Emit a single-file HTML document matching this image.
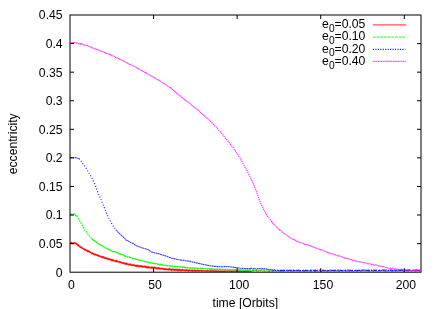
<!DOCTYPE html>
<html><head><meta charset="utf-8"><title>eccentricity</title>
<style>
html,body{margin:0;padding:0;background:#fff;}
body{width:442px;height:309px;overflow:hidden;}
svg{display:block;will-change:transform;opacity:0.999;}
text{font-family:"Liberation Sans",sans-serif;font-size:12.2px;fill:#000;}
</style></head><body>
<svg width="442" height="309" viewBox="0 0 442 309">
<rect width="442" height="309" fill="#fff"/>
<clipPath id="c"><rect x="60" y="10" width="372" height="262.2"/></clipPath>
<g fill="none" stroke-linejoin="round" clip-path="url(#c)">
<path d="M70.2 242.6 L70.9 243.5 L71.6 242.6 L72.3 243.7 L73.0 242.7 L73.7 243.7 L74.4 242.7 L75.1 243.6 L75.8 243.0 L76.5 244.3 L77.2 244.0 L77.9 245.5 L78.6 245.0 L79.3 246.7 L80.0 246.2 L80.7 247.5 L81.4 247.1 L82.1 248.4 L82.8 248.0 L83.5 249.2 L84.2 248.8 L84.9 250.1 L85.6 249.6 L86.3 250.8 L87.0 250.2 L87.7 251.5 L88.4 250.9 L89.1 252.1 L89.8 251.6 L90.5 252.7 L91.2 252.4 L91.9 253.7 L92.6 253.0 L93.3 254.3 L94.0 253.7 L94.7 254.8 L95.4 254.1 L96.1 255.3 L96.8 254.7 L97.5 255.7 L98.2 255.2 L98.9 256.3 L99.6 255.8 L100.3 256.9 L101.0 256.2 L101.7 257.3 L102.4 256.5 L103.1 257.8 L103.8 256.9 L104.5 258.3 L105.2 257.6 L105.9 258.6 L106.6 258.1 L107.3 259.2 L108.0 258.3 L108.7 259.5 L109.4 258.9 L110.1 260.0 L110.8 259.2 L111.5 260.4 L112.2 259.6 L112.9 260.7 L113.6 260.0 L114.3 261.0 L115.0 260.5 L115.7 261.6 L116.4 260.6 L117.1 261.9 L117.8 261.2 L118.5 262.0 L119.2 261.5 L119.9 262.5 L120.6 261.9 L121.3 262.9 L122.0 262.4 L122.7 263.3 L123.4 262.6 L124.1 263.7 L124.8 263.0 L125.5 264.2 L126.2 263.3 L126.9 264.4 L127.6 263.7 L128.3 264.8 L129.0 264.0 L129.7 264.9 L130.4 264.2 L131.1 265.5 L131.8 264.6 L132.5 265.4 L133.2 264.7 L133.9 265.8 L134.6 265.1 L135.3 266.0 L136.0 265.3 L136.7 266.4 L137.4 265.5 L138.1 266.6 L138.8 265.5 L139.5 266.5 L140.2 265.7 L140.9 266.8 L141.6 265.9 L142.3 267.1 L143.0 266.2 L143.7 267.0 L144.4 266.2 L145.1 267.3 L145.8 266.4 L146.5 267.6 L147.2 266.6 L147.9 267.8 L148.6 266.8 L149.3 267.8 L150.0 267.1 L150.7 268.0 L151.4 267.1 L152.1 268.1 L152.8 267.1 L153.5 268.1 L154.2 267.3 L154.9 268.2 L155.6 267.5 L156.3 268.7 L157.0 267.8 L157.7 268.8 L158.4 267.8 L159.1 269.0 L159.8 268.1 L160.5 269.0 L161.2 268.4 L161.9 269.2 L162.6 268.5 L163.3 269.4 L164.0 268.7 L164.7 269.5 L165.4 268.7 L166.1 269.8 L166.8 268.9 L167.5 269.7 L168.2 268.9 L168.9 269.9 L169.6 268.9 L170.3 269.9 L171.0 269.1 L171.7 270.2 L172.4 269.3 L173.1 270.1 L173.8 269.3 L174.5 270.3 L175.2 269.3 L175.9 270.4 L176.6 269.5 L177.3 270.4 L178.0 269.4 L178.7 270.4 L179.4 269.5 L180.1 270.6 L180.8 269.7 L181.5 270.5 L182.2 269.7 L182.9 270.5 L183.6 269.9 L184.3 270.6 L185.0 269.9 L185.7 270.8 L186.4 269.9 L187.1 270.7 L187.8 270.0 L188.5 270.9 L189.2 270.0 L189.9 270.9 L190.6 270.2 L191.3 270.8 L192.0 269.9 L192.7 271.1 L193.4 270.3 L194.1 271.1 L194.8 270.0 L195.5 271.1 L196.2 270.3 L196.9 271.1 L197.6 270.2 L198.3 271.1 L199.0 270.2 L199.7 271.0 L200.4 270.5 L201.1 271.0 L201.8 270.5 L202.5 271.1 L203.2 270.6 L203.9 271.0 L204.6 270.7 L205.3 271.0 L206.0 270.7 L206.7 271.2 L207.4 270.6 L208.1 271.1 L208.8 270.8 L209.5 271.2 L210.2 270.7 L210.9 271.3 L211.6 270.8 L212.3 271.3 L213.0 270.8 L213.7 271.3 L214.4 270.9 L215.1 271.3 L215.8 270.8 L216.5 271.3 L217.2 270.9 L217.9 271.3 L218.6 270.9 L219.3 271.4 L220.0 270.9 L220.7 271.3 L221.4 270.9 L222.1 271.4 L222.8 270.9 L223.5 271.4 L224.2 270.9 L224.9 271.4 L225.6 270.9 L226.3 271.4 L227.0 271.0 L227.7 271.3 L228.4 270.9 L229.1 271.3 L229.8 270.9 L230.5 271.3 L231.2 270.9 L231.9 271.5 L232.6 271.0 L233.3 271.3 L234.0 271.0 L234.7 271.4 L235.4 270.9 L236.1 271.3 L236.8 270.9 L237.5 271.5 L238.2 270.9 L238.9 271.4 L239.6 271.0 L240.3 271.4 L241.0 271.0 L241.7 271.4 L242.4 271.0 L243.1 271.4 L243.8 270.9 L244.5 271.5 L245.2 270.9 L245.9 271.4 L246.6 271.0 L247.3 271.4 L248.0 270.9 L248.7 271.4 L249.4 271.0 L250.1 271.3 L250.8 271.0 L251.5 271.4" stroke="#ff0000" stroke-width="1.2" stroke-opacity="0.95" stroke-linejoin="miter"/>
<path d="M70.2 214.3 L70.7 214.2 L71.2 214.2 L71.7 214.3 L72.2 214.4 L72.7 214.0 L73.2 214.2 L73.7 214.0 L74.2 214.0 L74.7 214.4 L75.2 214.6 L75.7 215.3 L76.2 215.6 L76.7 215.9 M91.7 238.7 L92.2 239.1 L92.7 239.3 L93.2 240.0 L93.7 240.0 L94.2 240.7 L94.7 241.0 L95.2 241.0 L95.7 241.4 L96.2 242.1 L96.7 242.5 L97.2 242.5 L97.7 243.0 L98.2 243.6 L98.7 243.7 L99.2 244.4 L99.7 244.6 L100.2 244.7 L100.7 245.1 L101.2 245.4 L101.7 245.6 L102.2 245.9 L102.7 245.9 L103.2 246.5 L103.7 246.6 L104.2 247.1 L104.7 247.4 L105.2 247.6 L105.7 247.9 L106.2 248.4 L106.7 248.7 L107.2 248.9 L107.7 249.0 L108.2 249.1 L108.7 249.2 L109.2 249.9 L109.7 250.0 L110.2 250.4 L110.7 250.4 L111.2 250.8 L111.7 251.3 L112.2 251.5 L112.7 251.5 L113.2 251.4 L113.7 251.6 L114.2 251.9 L114.7 251.7 L115.2 252.0 L115.7 252.2 L116.2 252.5 L116.7 252.8 L117.2 252.7 L117.7 252.9 L118.2 253.2 L118.7 253.6 L119.2 253.8 L119.7 254.0 L120.2 254.2 L120.7 253.9 L121.2 254.4 L121.7 254.5 L122.2 254.6 L122.7 254.6 L123.2 254.7 L123.7 255.3 L124.2 255.6 L124.7 255.8 L125.2 256.1 L125.7 256.0 L126.2 256.0 L126.7 256.4 L127.2 256.7 L127.7 256.6 L128.2 257.0 L128.7 257.2 L129.2 257.1 L129.7 257.4 L130.2 257.6 L130.7 257.7 L131.2 257.7 L131.7 257.8 L132.2 258.2 L132.7 258.4 L133.2 258.4 L133.7 258.3 L134.2 258.8 L134.7 258.9 L135.2 258.8 L135.7 259.1 L136.2 259.4 L136.7 259.5 L137.2 259.5 L137.7 259.6 L138.2 259.8 L138.7 259.7 L139.2 259.9 L139.7 260.0 L140.2 260.4 L140.7 260.3 L141.2 260.6 L141.7 260.6 L142.2 260.8 L142.7 260.8 L143.2 260.9 L143.7 261.5 L144.2 261.3 L144.7 261.3 L145.2 261.6 L145.7 261.8 L146.2 261.6 L146.7 261.9 L147.2 261.9 L147.7 262.1 L148.2 262.0 L148.7 262.1 L149.2 262.7 L149.7 262.8 L150.2 262.7 L150.7 262.8 L151.2 262.8 L151.7 263.1 L152.2 263.0 L152.7 263.4 L153.2 263.4 L153.7 263.5 L154.2 263.7 L154.7 263.5 L155.2 263.4 L155.7 263.6 L156.2 263.7 L156.7 263.7 L157.2 263.8 L157.7 264.1 L158.2 264.4 L158.7 264.3 L159.2 264.6 L159.7 264.7 L160.2 264.3 L160.7 264.7 L161.2 264.7 L161.7 264.6 L162.2 265.1 L162.7 264.8 L163.2 265.1 L163.7 265.2 L164.2 265.4 L164.7 265.4 L165.2 265.3 L165.7 265.4 L166.2 265.3 L166.7 265.8 L167.2 265.8 L167.7 265.5 L168.2 265.5 L168.7 265.7 L169.2 265.8 L169.7 266.1 L170.2 266.2 L170.7 266.2 L171.2 265.9 L171.7 266.3 L172.2 266.3 L172.7 266.4 L173.2 266.6 L173.7 266.2 L174.2 266.3 L174.7 266.6 L175.2 266.8 L175.7 266.7 L176.2 266.6 L176.7 266.8 L177.2 266.9 L177.7 266.6 L178.2 266.8 L178.7 266.8 L179.2 266.8 L179.7 267.0 L180.2 266.9 L180.7 267.0 L181.2 267.0 L181.7 267.3 L182.2 267.0 L182.7 267.4 L183.2 267.2 L183.7 267.2 L184.2 267.7 L184.7 267.4 L185.2 267.8 L185.7 267.8 L186.2 267.8 L186.7 267.5 L187.2 267.7 L187.7 267.6 L188.2 268.1 L188.7 268.1 L189.2 268.0 L189.7 268.0 L190.2 267.9 L190.7 268.2 L191.2 268.1 L191.7 268.2 L192.2 267.9 L192.7 268.0 L193.2 267.9 L193.7 268.3 L194.2 268.2 L194.7 268.1 L195.2 268.4 L195.7 268.2 L196.2 268.3 L196.7 268.2 L197.2 268.2 L197.7 268.5 L198.2 268.3 L198.7 268.3 L199.2 268.4 L199.7 268.4 L200.2 268.7 L200.7 268.3 L201.2 268.8 L201.7 268.3 L202.2 268.8 L202.7 268.7 L203.2 268.5 L203.7 268.7 L204.2 268.6 L204.7 268.6 L205.2 268.6 L205.7 268.7 L206.2 269.1 L206.7 269.1 L207.2 269.1 L207.7 268.7 L208.2 268.8 L208.7 269.2 L209.2 268.8 L209.7 269.1 L210.2 268.9 L210.7 269.3 L211.2 268.9 L211.7 269.3 L212.2 269.1 L212.7 269.0 L213.2 269.0 L213.7 269.4 L214.2 269.3 L214.7 269.1 L215.2 269.3 L215.7 269.5 L216.2 269.2 L216.7 269.4 L217.2 269.2 L217.7 269.2 L218.2 269.5 L218.7 269.5 L219.2 269.3 L219.7 269.2 L220.2 269.2 L220.7 269.5 L221.2 269.5 L221.7 269.4 L222.2 269.3 L222.7 269.5 L223.2 269.6 L223.7 269.7 L224.2 269.6 L224.7 269.4 L225.2 269.3 L225.7 269.7 L226.2 269.5 L226.7 269.7 L227.2 269.4 L227.7 269.8 L228.2 269.5 L228.7 269.8 L229.2 269.8 L229.7 269.7 L230.2 269.4 L230.7 269.9 L231.2 269.7 L231.7 269.9 L232.2 269.6 L232.7 269.6 L233.2 269.9 L233.7 269.7 L234.2 269.6 L234.7 269.7 L235.2 269.8 L235.7 269.6 L236.2 269.8 L236.7 269.8 L237.2 269.8 L237.7 269.7 L238.2 270.0 L238.7 270.0 L239.2 270.1 L239.7 269.8 L240.2 270.0 L240.7 269.9 L241.2 270.1 L241.7 269.8 L242.2 270.2 L242.7 270.3 L243.2 270.1 L243.7 270.1 L244.2 270.1 L244.7 270.2 L245.2 269.9 L245.7 270.4 L246.2 270.1 L246.7 270.1 L247.2 270.1 L247.7 270.2 L248.2 270.5 L248.7 270.1 L249.2 270.2 L249.7 270.5 L250.2 270.2 L250.7 270.2 L251.2 270.5 L251.7 270.5" stroke="#00ff00" stroke-width="1.35" stroke-opacity="0.92" stroke-dasharray="2.4 0.35"/>
<path d="M76.7 215.9 L77.2 216.5 L77.7 217.4 L78.2 218.5 L78.7 219.4 L79.2 220.0 L79.7 220.9 L80.2 221.6 L80.7 222.7 L81.2 223.4 L81.7 224.2 L82.2 225.0 L82.7 225.9 L83.2 227.1 L83.7 227.7 L84.2 229.0 L84.7 229.4 L85.2 230.5 L85.7 230.9 L86.2 231.5 L86.7 232.5 L87.2 233.0 L87.7 233.9 L88.2 234.3 L88.7 234.9 L89.2 235.8 L89.7 236.4 L90.2 237.1 L90.7 237.7 L91.2 238.0 L91.7 238.7" stroke="#00ff00" stroke-width="1.25" stroke-opacity="0.9" stroke-dasharray="1.6 1.0"/>
<path d="M79.0 158.9 L79.4 159.0 L79.8 159.4 L80.2 159.7 L80.6 160.2 L81.0 160.8 L81.4 161.4 L81.8 162.0 L82.2 162.7 L82.6 163.2 L83.0 163.9 L83.4 164.5 L83.8 164.9 L84.2 165.4 L84.6 166.2 L85.0 166.7 L85.4 167.1 L85.8 167.8 L86.2 168.3 L86.6 169.0 L87.0 169.7 L87.4 170.4 L87.8 171.0 L88.2 171.8 L88.6 172.5 L89.0 173.3 L89.4 173.7 L89.8 174.6 L90.2 175.0 L90.6 175.7 L91.0 176.5 L91.4 177.2 L91.8 177.9 L92.2 178.5 L92.6 179.3 L93.0 180.1 L93.4 181.1 L93.8 181.9 L94.2 182.9 L94.6 183.9 L95.0 184.6 L95.4 185.6 L95.8 186.7 L96.2 187.9 L96.6 188.8 L97.0 190.0 L97.4 191.1 L97.8 192.2 L98.2 193.0 L98.6 194.0 L99.0 195.0 L99.4 195.8 L99.8 196.7 L100.2 197.7 L100.6 198.6 L101.0 199.4 L101.4 200.4 L101.8 201.3 L102.2 202.3 L102.6 203.2 L103.0 204.4 L103.4 205.5 L103.8 206.4 L104.2 207.6 L104.6 208.4 L105.0 209.5 L105.4 210.4 L105.8 211.4 L106.2 212.4 L106.6 213.1 L107.0 214.0 L107.4 214.9 L107.8 215.8 L108.2 216.8 L108.6 217.5 L109.0 218.5 L109.4 219.3 L109.8 220.1 L110.2 220.9 L110.6 221.6 L111.0 222.3 L111.4 223.1 L111.8 223.8 L112.2 224.7 L112.6 225.2 L113.0 225.7 L113.4 226.4 L113.8 226.8 L114.2 227.3 L114.6 227.8 L115.0 228.5 L115.4 229.0 L115.8 229.7" stroke="#0000ff" stroke-width="1.15" stroke-opacity="0.9" stroke-dasharray="1.0 1.9"/>
<path d="M70.2 157.6 L70.6 157.6 L71.0 157.4 L71.4 157.6 L71.8 157.6 L72.2 157.6 L72.6 157.5 L73.0 157.7 L73.4 157.6 L73.8 157.7 L74.2 157.6 L74.6 157.6 L75.0 157.8 L75.4 157.7 L75.8 157.9 L76.2 157.8 L76.6 157.7 L77.0 157.9 L77.4 158.1 L77.8 158.4 L78.2 158.6 L78.6 158.6 L79.0 158.9 M115.8 229.7 L116.2 230.1 L116.6 230.6 L117.0 230.9 L117.4 231.3 L117.8 231.8 L118.2 232.4 L118.6 232.9 L119.0 233.2 L119.4 233.5 L119.8 233.9 L120.2 234.3 L120.6 234.7 L121.0 235.0 L121.4 235.4 L121.8 235.7 L122.2 235.9 L122.6 236.5 L123.0 236.8 L123.4 237.2 L123.8 237.6 L124.2 238.1 L124.6 238.3 L125.0 238.7 L125.4 239.1 L125.8 239.5 L126.2 240.1 L126.6 240.2 L127.0 240.4 L127.4 240.6 L127.8 241.0 L128.2 241.1 L128.6 241.3 L129.0 241.7 L129.4 241.8 L129.8 242.2 L130.2 242.2 L130.6 242.4 L131.0 242.7 L131.4 242.9 L131.8 243.1 L132.2 243.1 L132.6 243.4 L133.0 243.5 L133.4 243.7 L133.8 244.1 L134.2 244.3 L134.6 244.6 L135.0 244.7 L135.4 245.1 L135.8 245.2 L136.2 245.4 L136.6 245.8 L137.0 246.0 L137.4 246.0 L137.8 246.3 L138.2 246.5 L138.6 246.5 L139.0 246.7 L139.4 246.8 L139.8 247.0 L140.2 247.1 L140.6 247.4 L141.0 247.5 L141.4 247.6 L141.8 247.7 L142.2 247.9 L142.6 248.1 L143.0 248.1 L143.4 248.2 L143.8 248.3 L144.2 248.6 L144.6 248.6 L145.0 248.6 L145.4 248.7 L145.8 248.9 L146.2 249.0 L146.6 249.2 L147.0 249.1 L147.4 249.3 L147.8 249.6 L148.2 249.8 L148.6 250.0 L149.0 250.3 L149.4 250.6 L149.8 250.7 L150.2 251.0 L150.6 251.2 L151.0 251.5 L151.4 251.8 L151.8 252.1 L152.2 252.1 L152.6 252.3 L153.0 252.5 L153.4 252.5 L153.8 252.5 L154.2 252.8 L154.6 252.8 L155.0 253.0 L155.4 252.9 L155.8 253.1 L156.2 253.1 L156.6 253.2 L157.0 253.2 L157.4 253.4 L157.8 253.5 L158.2 253.7 L158.6 253.6 L159.0 253.8 L159.4 253.9 L159.8 254.0 L160.2 254.1 L160.6 254.2 L161.0 254.4 L161.4 254.6 L161.8 254.6 L162.2 254.8 L162.6 255.0 L163.0 255.1 L163.4 255.1 L163.8 255.2 L164.2 255.5 L164.6 255.6 L165.0 255.6 L165.4 255.7 L165.8 256.1 L166.2 256.1 L166.6 256.4 L167.0 256.4 L167.4 256.6 L167.8 256.6 L168.2 256.9 L168.6 257.0 L169.0 257.2 L169.4 257.4 L169.8 257.6 L170.2 257.6 L170.6 257.7 L171.0 257.9 L171.4 258.1 L171.8 258.1 L172.2 258.2 L172.6 258.3 L173.0 258.5 L173.4 258.7 L173.8 258.5 L174.2 258.8 L174.6 258.9 L175.0 258.8 L175.4 259.1 L175.8 259.0 L176.2 259.3 L176.6 259.3 L177.0 259.5 L177.4 259.5 L177.8 259.6 L178.2 259.7 L178.6 259.7 L179.0 259.8 L179.4 259.8 L179.8 259.9 L180.2 259.8 L180.6 260.1 L181.0 260.1 L181.4 260.1 L181.8 260.3 L182.2 260.3 L182.6 260.3 L183.0 260.3 L183.4 260.5 L183.8 260.4 L184.2 260.5 L184.6 260.6 L185.0 260.6 L185.4 260.7 L185.8 260.8 L186.2 260.7 L186.6 260.9 L187.0 260.8 L187.4 261.0 L187.8 261.1 L188.2 261.1 L188.6 261.0 L189.0 261.2 L189.4 261.2 L189.8 261.4 L190.2 261.3 L190.6 261.6 L191.0 261.7 L191.4 261.7 L191.8 261.8 L192.2 261.8 L192.6 262.1 L193.0 262.0 L193.4 262.3 L193.8 262.3 L194.2 262.3 L194.6 262.5 L195.0 262.6 L195.4 262.5 L195.8 262.7 L196.2 262.9 L196.6 262.8 L197.0 263.1 L197.4 263.0 L197.8 263.3 L198.2 263.2 L198.6 263.4 L199.0 263.6 L199.4 263.5 L199.8 263.6 L200.2 263.8 L200.6 263.8 L201.0 263.9 L201.4 264.0 L201.8 264.1 L202.2 264.4 L202.6 264.4 L203.0 264.5 L203.4 264.4 L203.8 264.6 L204.2 264.6 L204.6 264.7 L205.0 264.8 L205.4 264.8 L205.8 265.0 L206.2 265.0 L206.6 265.1 L207.0 265.3 L207.4 265.2 L207.8 265.4 L208.2 265.4 L208.6 265.5 L209.0 265.6 L209.4 265.5 L209.8 265.8 L210.2 265.7 L210.6 265.7 L211.0 265.9 L211.4 265.9 L211.8 265.9 L212.2 266.1 L212.6 266.0 L213.0 266.2 L213.4 266.1 L213.8 266.3 L214.2 266.4 L214.6 266.4 L215.0 266.4 L215.4 266.4 L215.8 266.3 L216.2 266.4 L216.6 266.4 L217.0 266.6 L217.4 266.5 L217.8 266.6 L218.2 266.7 L218.6 266.6 L219.0 266.6 L219.4 266.7 L219.8 266.6 L220.2 266.6 L220.6 266.7 L221.0 266.7 L221.4 266.8 L221.8 266.7 L222.2 266.8 L222.6 266.7 L223.0 266.6 L223.4 266.7 L223.8 266.7 L224.2 266.6 L224.6 266.7 L225.0 266.5 L225.4 266.5 L225.8 266.5 L226.2 266.6 L226.6 266.6 L227.0 266.6 L227.4 266.5 L227.8 266.5 L228.2 266.5 L228.6 266.7 L229.0 266.7 L229.4 266.7 L229.8 266.8 L230.2 266.8 L230.6 267.0 L231.0 267.0 L231.4 266.9 L231.8 267.1 L232.2 266.9 L232.6 267.1 L233.0 267.1 L233.4 267.1 L233.8 267.1 L234.2 267.4 L234.6 267.2 L235.0 267.4 L235.4 267.6 L235.8 267.5 L236.2 267.5 L236.6 267.7 L237.0 267.8 L237.4 267.8 L237.8 268.0 L238.2 267.9 L238.6 268.0 L239.0 268.0 L239.4 268.0 L239.8 268.3 L240.2 268.3 L240.6 268.3 L241.0 268.2 L241.4 268.4 L241.8 268.4 L242.2 268.4 L242.6 268.5 L243.0 268.4 L243.4 268.4 L243.8 268.4 L244.2 268.5 L244.6 268.5 L245.0 268.6 L245.4 268.7 L245.8 268.6 L246.2 268.7 L246.6 268.7 L247.0 268.5 L247.4 268.6 L247.8 268.6 L248.2 268.7 L248.6 268.6 L249.0 268.5 L249.4 268.6 L249.8 268.7 L250.2 268.4 L250.6 268.9 L251.0 268.2 L251.4 268.4 L251.8 268.4 L252.2 268.8 L252.6 269.0 L253.0 268.8 L253.4 268.5 L253.8 268.9 L254.2 268.5 L254.6 268.4 L255.0 269.0 L255.4 268.8 L255.8 268.8 L256.2 268.8 L256.6 269.1 L257.0 268.7 L257.4 269.0 L257.8 268.9 L258.2 269.0 L258.6 268.7 L259.0 268.9 L259.4 268.8 L259.8 268.6 L260.2 268.6 L260.6 268.9 L261.0 268.5 L261.4 269.1 L261.8 268.5 L262.2 268.5 L262.6 268.5 L263.0 269.2 L263.4 268.7 L263.8 268.6 L264.2 268.5 L264.6 268.5 L265.0 269.1 L265.4 269.1 L265.8 269.2 L266.2 269.3 L266.6 268.8 L267.0 269.3 L267.4 269.2 L267.8 269.6 L268.2 269.7 L268.6 269.8 L269.0 269.2 L269.4 269.9 L269.8 270.0 L270.2 270.1 L270.6 269.5 L271.0 269.6 L271.4 269.6 L271.8 269.6" stroke="#0000ff" stroke-width="1.1" stroke-opacity="0.74" stroke-dasharray="2.0 0.4"/>
</g>
<g stroke="#000" stroke-width="1" fill="none">
<rect x="70.00" y="15.00" width="351.00" height="257.20"/>
<line x1="153.57" y1="15.00" x2="153.57" y2="19.00"/>
<line x1="237.14" y1="15.00" x2="237.14" y2="19.00"/>
<line x1="320.71" y1="15.00" x2="320.71" y2="19.00"/>
<line x1="404.29" y1="15.00" x2="404.29" y2="19.00"/>
<line x1="70.00" y1="243.62" x2="74.00" y2="243.62"/>
<line x1="421.00" y1="243.62" x2="417.00" y2="243.62"/>
<line x1="70.00" y1="215.04" x2="74.00" y2="215.04"/>
<line x1="421.00" y1="215.04" x2="417.00" y2="215.04"/>
<line x1="70.00" y1="186.47" x2="74.00" y2="186.47"/>
<line x1="421.00" y1="186.47" x2="417.00" y2="186.47"/>
<line x1="70.00" y1="157.89" x2="74.00" y2="157.89"/>
<line x1="421.00" y1="157.89" x2="417.00" y2="157.89"/>
<line x1="70.00" y1="129.31" x2="74.00" y2="129.31"/>
<line x1="421.00" y1="129.31" x2="417.00" y2="129.31"/>
<line x1="70.00" y1="100.73" x2="74.00" y2="100.73"/>
<line x1="421.00" y1="100.73" x2="417.00" y2="100.73"/>
<line x1="70.00" y1="72.16" x2="74.00" y2="72.16"/>
<line x1="421.00" y1="72.16" x2="417.00" y2="72.16"/>
<line x1="70.00" y1="43.58" x2="74.00" y2="43.58"/>
<line x1="421.00" y1="43.58" x2="417.00" y2="43.58"/>
</g>
<g fill="none" stroke-linejoin="round" clip-path="url(#c)">
<path d="M251.7 270.5 L252.2 270.5 L252.7 270.7 L253.2 270.3 L253.7 270.8 L254.2 270.7 L254.7 270.4 L255.2 270.4 L255.7 270.7 L256.2 270.7 L256.7 270.6 L257.2 270.5 L257.7 270.7 L258.2 270.6 L258.7 270.9 L259.2 271.1 L259.7 270.7 L260.2 270.9 L260.7 271.1 L261.2 270.7 L261.7 271.1 L262.2 271.2 L262.7 270.9 L263.2 270.9 L263.7 271.2 L264.2 271.0 L264.7 271.0 L265.2 271.3 L265.7 271.2 L266.2 271.0 L266.7 270.9 L267.2 271.0 L267.7 271.1 L268.2 271.4 L268.7 271.3 L269.2 271.4 L269.7 271.4 L270.2 271.4 L270.7 271.0 L271.2 271.2 L271.7 271.5 L272.2 271.5 L272.7 271.1 L273.2 271.2 L273.7 271.4 L274.2 271.2 L274.7 271.4 L275.2 271.1 L275.7 271.3 L276.2 271.4 L276.7 271.1 L277.2 271.2 L277.7 271.7 L278.2 271.6 L278.7 271.7 L279.2 271.6 L279.7 271.7 L280.2 271.7 L280.7 271.7 L281.2 271.2 L281.7 271.6 L282.2 271.4 L282.7 271.6 L283.2 271.4 L283.7 271.5 L284.2 271.8 L284.7 271.6 L285.2 271.4 L285.7 271.5 L286.2 271.5 L286.7 271.8 L287.2 271.4 L287.7 271.4 L288.2 271.6 L288.7 271.3 L289.2 271.6 L289.7 271.8 L290.2 271.5 L290.7 271.4 L291.2 271.5 L291.7 271.5 L292.2 271.3 L292.7 271.3 L293.2 271.3 L293.7 271.4 L294.2 271.5 L294.7 271.4 L295.2 271.4 L295.7 271.3 L296.2 271.5 L296.7 271.7 L297.2 271.6 L297.7 271.6 L298.2 271.6 L298.7 271.3 L299.2 271.7 L299.7 271.5 L300.2 271.6 L300.7 271.6 L301.2 271.5 L301.7 271.4 L302.2 271.4 L302.7 271.4 L303.2 271.5 L303.7 271.5 L304.2 271.6 L304.7 271.2 L305.2 271.4 L305.7 271.7 L306.2 271.4 L306.7 271.6 L307.2 271.5 L307.7 271.4 L308.2 271.8 L308.7 271.4 L309.2 271.7 L309.7 271.3 L310.2 271.3 L310.7 271.8 L311.2 271.5 L311.7 271.3 L312.2 271.5 L312.7 271.5 L313.2 271.7 L313.7 271.3 L314.2 271.4 L314.7 271.8 L315.2 271.7 L315.7 271.3 L316.2 271.4 L316.7 271.5 L317.2 271.7 L317.7 271.6 L318.2 271.8 L318.7 271.7 L319.2 271.6 L319.7 271.7 L320.2 271.7 L320.7 271.7 L321.2 271.5 L321.7 271.7 L322.2 271.7 L322.7 271.8 L323.2 271.3 L323.7 271.8 L324.2 271.3 L324.7 271.7 L325.2 271.6 L325.7 271.6 L326.2 271.8 L326.7 271.6 L327.2 271.5 L327.7 271.7 L328.2 271.8 L328.7 271.6 L329.2 271.5 L329.7 271.5 L330.2 271.5 L330.7 271.7 L331.2 271.4 L331.7 271.5 L332.2 271.6 L332.7 271.5 L333.2 271.5 L333.7 271.7 L334.2 271.8 L334.7 271.6 L335.2 271.5 L335.7 271.4 L336.2 271.5 L336.7 271.4 L337.2 271.6 L337.7 271.6 L338.2 271.3 L338.7 271.8 L339.2 271.5 L339.7 271.8 L340.2 271.8 L340.7 271.9 L341.2 271.4 L341.7 271.5 L342.2 271.8 L342.7 271.3 L343.2 271.3 L343.7 271.6 L344.2 271.6 L344.7 271.8 L345.2 271.7 L345.7 271.6 L346.2 271.9 L346.7 271.6 L347.2 271.6 L347.7 271.7 L348.2 271.5 L348.7 271.5 L349.2 271.6 L349.7 271.5 L350.2 271.9 L350.7 271.7 L351.2 271.6 L351.7 271.3 L352.2 271.5 L352.7 271.5 L353.2 271.6 L353.7 271.6 L354.2 271.8 L354.7 271.9 L355.2 271.6 L355.7 271.6 L356.2 271.7 L356.7 271.9 L357.2 271.5 L357.7 271.6 L358.2 271.8 L358.7 271.4 L359.2 271.5 L359.7 271.9 L360.2 271.8 L360.7 271.6 L361.2 271.4 L361.7 271.8 L362.2 271.7 L362.7 271.8 L363.2 271.9 L363.7 271.8 L364.2 271.6 L364.7 271.4 L365.2 271.5 L365.7 271.6 L366.2 271.6 L366.7 271.4 L367.2 271.4 L367.7 271.7 L368.2 271.7 L368.7 271.5 L369.2 271.9 L369.7 271.7 L370.2 271.3 L370.7 271.5 L371.2 271.8 L371.7 271.5 L372.2 271.7 L372.7 271.3 L373.2 271.5 L373.7 271.8 L374.2 271.7 L374.7 271.7 L375.2 271.4 L375.7 271.6 L376.2 271.6 L376.7 271.5 L377.2 271.7 L377.7 271.6 L378.2 271.9 L378.7 271.6 L379.2 271.5 L379.7 271.4 L380.2 271.4 L380.7 271.8 L381.2 271.4 L381.7 271.4 L382.2 271.4 L382.7 271.6 L383.2 271.8 L383.7 271.7 L384.2 271.8 L384.7 271.3 L385.2 271.3 L385.7 271.8 L386.2 271.5 L386.7 271.7 L387.2 271.5 L387.7 271.4 L388.2 271.5 L388.7 271.4 L389.2 271.8 L389.7 271.6 L390.2 271.5 L390.7 271.6 L391.2 271.5 L391.7 271.3 L392.2 271.8 L392.7 271.6 L393.2 271.9 L393.7 271.6 L394.2 271.7 L394.7 271.4 L395.2 271.3 L395.7 271.9 L396.2 271.8 L396.7 271.5 L397.2 271.8 L397.7 271.8 L398.2 271.5 L398.7 271.7 L399.2 271.9 L399.7 271.6 L400.2 271.9 L400.7 271.4 L401.2 271.5 L401.7 271.7 L402.2 271.4 L402.7 271.5 L403.2 271.8 L403.7 271.6 L404.2 271.8 L404.7 271.4 L405.2 271.4 L405.7 271.5 L406.2 271.4 L406.7 271.9 L407.2 271.5 L407.7 271.6 L408.2 271.4 L408.7 271.6 L409.2 271.5 L409.7 271.5 L410.2 271.3 L410.7 271.4 L411.2 271.8 L411.7 271.5 L412.2 271.4 L412.7 271.4 L413.2 271.5 L413.7 271.4 L414.2 271.3 L414.7 271.7 L415.2 271.5 L415.7 271.4 L416.2 271.7 L416.7 271.4 L417.2 271.5 L417.7 271.8 L418.2 271.4 L418.7 271.6 L419.2 271.8 L419.7 271.8 L420.2 271.4" stroke="#00ff00" stroke-width="1.2" stroke-opacity="0.95" stroke-dasharray="6 0.8 3 0.6 9 1.0"/>
<path d="M252.2 270.9 L252.9 271.4 L253.6 270.9 L254.3 271.4 L255.0 270.9 L255.7 271.4 L256.4 270.9 L257.1 271.3 L257.8 270.9 L258.5 271.4 L259.2 270.9 L259.9 271.4 L260.6 270.8 L261.3 271.4 L262.0 270.9 L262.7 271.3 L263.4 270.9 L264.1 271.4 L264.8 271.0 L265.5 271.3 L266.2 270.9 L266.9 271.3 L267.6 270.9 L268.3 271.4 L269.0 270.9 L269.7 271.3 L270.4 270.9 L271.1 271.3 L271.8 270.9 L272.5 271.3 L273.2 270.9 L273.9 271.3 L274.6 270.8 L275.3 271.3 L276.0 270.9 L276.7 271.4 L277.4 270.9 L278.1 271.2 L278.8 270.8 L279.5 271.3 L280.2 270.8 L280.9 271.3 L281.6 270.9 L282.3 271.3 L283.0 270.9 L283.7 271.3 L284.4 270.8 L285.1 271.2 L285.8 270.8 L286.5 271.2 L287.2 270.8 L287.9 271.3 L288.6 270.8 L289.3 271.3 L290.0 270.8 L290.7 271.2 L291.4 270.7 L292.1 271.3 L292.8 270.9 L293.5 271.3 L294.2 270.8 L294.9 271.2 L295.6 270.7 L296.3 271.2 L297.0 270.7 L297.7 271.2 L298.4 270.7 L299.1 271.2 L299.8 270.8 L300.5 271.2 L301.2 270.8 L301.9 271.2 L302.6 270.8 L303.3 271.2 L304.0 270.7 L304.7 271.2 L305.4 270.7 L306.1 271.2 L306.8 270.7 L307.5 271.2 L308.2 270.7 L308.9 271.3 L309.6 270.8 L310.3 271.3 L311.0 270.8 L311.7 271.3 L312.4 270.7 L313.1 271.3 L313.8 270.8 L314.5 271.2 L315.2 270.7 L315.9 271.3 L316.6 270.7 L317.3 271.2 L318.0 270.8 L318.7 271.2 L319.4 270.8 L320.1 271.3 L320.8 270.8 L321.5 271.3 L322.2 270.7 L322.9 271.2 L323.6 270.8 L324.3 271.2 L325.0 270.7 L325.7 271.2 L326.4 270.8 L327.1 271.2 L327.8 270.8 L328.5 271.3 L329.2 270.8 L329.9 271.2 L330.6 270.8 L331.3 271.3 L332.0 270.8 L332.7 271.2 L333.4 270.7 L334.1 271.2 L334.8 270.7 L335.5 271.3 L336.2 270.7 L336.9 271.2 L337.6 270.8 L338.3 271.2 L339.0 270.8 L339.7 271.3 L340.4 270.7 L341.1 271.2 L341.8 270.8 L342.5 271.3 L343.2 270.7 L343.9 271.2 L344.6 270.8 L345.3 271.2 L346.0 270.7 L346.7 271.2 L347.4 270.7 L348.1 271.2 L348.8 270.8 L349.5 271.2 L350.2 270.8 L350.9 271.3 L351.6 270.8 L352.3 271.2 L353.0 270.8 L353.7 271.2 L354.4 270.8 L355.1 271.2 L355.8 270.8 L356.5 271.2 L357.2 270.8 L357.9 271.2 L358.6 270.8 L359.3 271.2 L360.0 270.8 L360.7 271.3 L361.4 270.8 L362.1 271.2 L362.8 270.7 L363.5 271.2 L364.2 270.8 L364.9 271.2 L365.6 270.8 L366.3 271.2 L367.0 270.8 L367.7 271.3 L368.4 270.7 L369.1 271.2 L369.8 270.8 L370.5 271.3 L371.2 270.7 L371.9 271.3 L372.6 270.8 L373.3 271.2 L374.0 270.8 L374.7 271.2 L375.4 270.7 L376.1 271.3 L376.8 270.7 L377.5 271.3 L378.2 270.8 L378.9 271.3 L379.6 270.7 L380.3 271.2 L381.0 270.8 L381.7 271.2 L382.4 270.8 L383.1 271.2 L383.8 270.8 L384.5 271.2 L385.2 270.8 L385.9 271.3 L386.6 270.8 L387.3 271.2 L388.0 270.8 L388.7 271.2 L389.4 270.8 L390.1 271.2 L390.8 270.8 L391.5 271.3 L392.2 270.8 L392.9 271.2 L393.6 270.8 L394.3 271.2 L395.0 270.8 L395.7 271.2 L396.4 270.8 L397.1 271.2 L397.8 270.7 L398.5 271.2 L399.2 270.7 L399.9 271.2 L400.6 270.7 L401.3 271.2 L402.0 270.8 L402.7 271.2 L403.4 270.8 L404.1 271.3 L404.8 270.8 L405.5 271.3 L406.2 270.8 L406.9 271.3 L407.6 270.8 L408.3 271.2 L409.0 270.7 L409.7 271.2 L410.4 270.8 L411.1 271.2 L411.8 270.8 L412.5 271.2 L413.2 270.7 L413.9 271.2 L414.6 270.8 L415.3 271.2 L416.0 270.8 L416.7 271.3 L417.4 270.8 L418.1 271.2 L418.8 270.7 L419.5 271.3 L420.2 270.8" stroke="#ff0000" stroke-width="1.0" stroke-opacity="0.85" stroke-dasharray="2 2.6 3.2 1.6 1.4 3.1"/>
<path d="M271.8 269.6 L272.2 270.3 L272.6 270.3 L273.0 270.2 L273.4 270.4 L273.8 270.3 L274.2 270.0 L274.6 269.9 L275.0 270.0 L275.4 270.5 L275.8 270.1 L276.2 270.2 L276.6 270.4 L277.0 270.1 L277.4 270.3 L277.8 270.3 L278.2 270.7 L278.6 270.4 L279.0 270.3 L279.4 270.9 L279.8 270.5 L280.2 270.8 L280.6 270.6 L281.0 270.1 L281.4 270.4 L281.8 270.4 L282.2 270.7 L282.6 270.3 L283.0 270.6 L283.4 270.5 L283.8 270.2 L284.2 270.7 L284.6 270.1 L285.0 270.7 L285.4 270.2 L285.8 270.0 L286.2 270.2 L286.6 270.6 L287.0 270.8 L287.4 270.0 L287.8 270.4 L288.2 270.4 L288.6 270.6 L289.0 270.2 L289.4 270.4 L289.8 270.3 L290.2 270.7 L290.6 270.2 L291.0 270.8 L291.4 270.2 L291.8 270.2 L292.2 270.6 L292.6 270.4 L293.0 270.1 L293.4 270.5 L293.8 270.1 L294.2 270.6 L294.6 270.6 L295.0 270.6 L295.4 270.5 L295.8 270.3 L296.2 270.3 L296.6 270.3 L297.0 270.7 L297.4 270.1 L297.8 270.7 L298.2 270.0 L298.6 270.2 L299.0 270.2 L299.4 270.7 L299.8 270.4 L300.2 270.3 L300.6 270.7 L301.0 270.2 L301.4 270.4 L301.8 270.4 L302.2 270.6 L302.6 270.6 L303.0 270.5 L303.4 270.3 L303.8 270.3 L304.2 270.1 L304.6 270.7 L305.0 270.5 L305.4 270.6 L305.8 270.1 L306.2 270.4 L306.6 270.6 L307.0 270.5 L307.4 270.1 L307.8 270.4 L308.2 270.7 L308.6 270.2 L309.0 270.2 L309.4 270.2 L309.8 270.6 L310.2 270.7 L310.6 270.1 L311.0 270.1 L311.4 270.2 L311.8 270.3 L312.2 270.4 L312.6 270.1 L313.0 270.3 L313.4 270.2 L313.8 270.8 L314.2 270.6 L314.6 270.1 L315.0 270.8 L315.4 270.1 L315.8 270.3 L316.2 270.8 L316.6 270.6 L317.0 270.6 L317.4 270.3 L317.8 270.2 L318.2 270.5 L318.6 270.1 L319.0 270.2 L319.4 270.3 L319.8 270.0 L320.2 270.3 L320.6 270.6 L321.0 270.6 L321.4 270.4 L321.8 270.5 L322.2 270.4 L322.6 270.1 L323.0 270.5 L323.4 270.3 L323.8 270.6 L324.2 270.7 L324.6 270.3 L325.0 270.5 L325.4 270.6 L325.8 270.3 L326.2 270.2 L326.6 270.6 L327.0 270.7 L327.4 270.6 L327.8 270.6 L328.2 270.7 L328.6 270.5 L329.0 270.5 L329.4 270.4 L329.8 270.3 L330.2 270.5 L330.6 270.1 L331.0 270.3 L331.4 270.6 L331.8 270.6 L332.2 270.5 L332.6 270.2 L333.0 270.3 L333.4 270.4 L333.8 270.5 L334.2 270.3 L334.6 270.5 L335.0 270.7 L335.4 270.1 L335.8 270.5 L336.2 270.6 L336.6 270.3 L337.0 270.4 L337.4 270.8 L337.8 270.0 L338.2 270.4 L338.6 270.1 L339.0 270.6 L339.4 270.8 L339.8 270.4 L340.2 270.1 L340.6 270.5 L341.0 270.4 L341.4 270.6 L341.8 270.4 L342.2 270.5 L342.6 270.7 L343.0 270.4 L343.4 270.3 L343.8 270.7 L344.2 270.2 L344.6 270.5 L345.0 270.3 L345.4 270.6 L345.8 270.1 L346.2 270.8 L346.6 270.3 L347.0 270.0 L347.4 270.2 L347.8 270.3 L348.2 270.0 L348.6 270.3 L349.0 270.3 L349.4 270.5 L349.8 270.3 L350.2 270.2 L350.6 270.2 L351.0 270.6 L351.4 270.7 L351.8 270.4 L352.2 270.1 L352.6 270.6 L353.0 270.3 L353.4 270.1 L353.8 270.1 L354.2 270.6 L354.6 270.6 L355.0 270.5 L355.4 270.3 L355.8 270.4 L356.2 270.1 L356.6 270.7 L357.0 270.2 L357.4 270.5 L357.8 270.6 L358.2 270.6 L358.6 270.3 L359.0 270.2 L359.4 270.4 L359.8 270.1 L360.2 270.6 L360.6 270.2 L361.0 270.6 L361.4 270.2 L361.8 270.2 L362.2 270.1 L362.6 270.3 L363.0 270.1 L363.4 269.9 L363.8 270.5 L364.2 270.2 L364.6 270.1 L365.0 270.2 L365.4 270.3 L365.8 270.3 L366.2 270.4 L366.6 270.5 L367.0 270.2 L367.4 270.7 L367.8 270.6 L368.2 270.0 L368.6 270.6 L369.0 270.7 L369.4 270.6 L369.8 270.0 L370.2 270.6 L370.6 270.4 L371.0 269.9 L371.4 269.9 L371.8 270.7 L372.2 270.4 L372.6 270.1 L373.0 270.0 L373.4 270.0 L373.8 270.1 L374.2 270.5 L374.6 270.2 L375.0 270.0 L375.4 270.6 L375.8 270.5 L376.2 270.0 L376.6 270.6 L377.0 270.4 L377.4 270.5 L377.8 270.4 L378.2 270.6 L378.6 270.5 L379.0 270.6 L379.4 270.1 L379.8 270.5 L380.2 270.3 L380.6 270.5 L381.0 270.2 L381.4 270.6 L381.8 270.3 L382.2 270.1 L382.6 270.1 L383.0 270.0 L383.4 270.3 L383.8 269.9 L384.2 270.3 L384.6 270.0 L385.0 270.3 L385.4 270.3 L385.8 270.3 L386.2 270.6 L386.6 269.9 L387.0 270.5 L387.4 270.2 L387.8 270.3 L388.2 270.4 L388.6 270.5 L389.0 270.2 L389.4 270.2 L389.8 270.6 L390.2 269.9 L390.6 270.4 L391.0 270.4 L391.4 269.9 L391.8 270.3 L392.2 270.4 L392.6 270.6 L393.0 270.1 L393.4 270.6 L393.8 270.2 L394.2 270.2 L394.6 270.5 L395.0 269.9 L395.4 270.4 L395.8 270.3 L396.2 270.1 L396.6 270.5 L397.0 270.1 L397.4 270.2 L397.8 270.2 L398.2 270.4 L398.6 270.0 L399.0 270.2 L399.4 270.1 L399.8 270.2 L400.2 270.5 L400.6 270.0 L401.0 270.5 L401.4 270.1 L401.8 270.2 L402.2 270.0 L402.6 270.2 L403.0 270.6 L403.4 270.3 L403.8 270.4 L404.2 270.1 L404.6 270.1 L405.0 270.0 L405.4 270.3 L405.8 270.3 L406.2 270.4 L406.6 269.8 L407.0 270.4 L407.4 270.5 L407.8 270.2 L408.2 269.8 L408.6 270.0 L409.0 269.8 L409.4 270.0 L409.8 270.5 L410.2 270.3 L410.6 270.3 L411.0 270.4 L411.4 270.5 L411.8 270.3 L412.2 270.3 L412.6 270.3 L413.0 270.4 L413.4 270.3 L413.8 270.3 L414.2 270.0 L414.6 270.3 L415.0 270.2 L415.4 270.4 L415.8 269.9 L416.2 269.9 L416.6 269.8 L417.0 270.4 L417.4 270.5 L417.8 270.3 L418.2 270.1 L418.6 270.5 L419.0 270.4 L419.4 270.2 L419.8 270.0 L420.2 270.0" stroke="#0000ff" stroke-width="1.1" stroke-opacity="0.85" stroke-dasharray="5 1.2 3 0.8 7 1.5 2 0.8"/>
<path d="M70.2 43.2 L70.7 42.9 L71.2 42.9 L71.7 42.3 L72.2 42.7 L72.7 42.6 L73.2 42.5 L73.7 42.8 L74.2 42.6 L74.7 42.9 L75.2 42.7 L75.7 42.8 L76.2 43.1 L76.7 43.4 L77.2 43.0 L77.7 43.1 L78.2 43.5 L78.7 43.7 L79.2 43.6 L79.7 43.5 L80.2 44.0 L80.7 43.5 L81.2 44.1 L81.7 43.9 L82.2 44.0 L82.7 44.1 L83.2 44.4 L83.7 44.8 L84.2 44.6 L84.7 45.0 L85.2 45.2 L85.7 45.1 L86.2 45.4 L86.7 45.2 L87.2 45.4 L87.7 45.7 L88.2 46.2 L88.7 46.2 L89.2 46.4 L89.7 46.7 L90.2 46.8 L90.7 46.9 L91.2 47.4 L91.7 47.6 L92.2 47.5 L92.7 47.9 L93.2 48.0 L93.7 48.4 L94.2 48.5 L94.7 48.5 L95.2 49.1 L95.7 48.8 L96.2 49.1 L96.7 49.5 L97.2 49.4 L97.7 49.8 L98.2 49.7 L98.7 50.2 L99.2 50.5 L99.7 50.6 L100.2 51.0 L100.7 50.8 L101.2 51.3 L101.7 51.4 L102.2 51.6 L102.7 51.7 L103.2 52.2 L103.7 52.4 L104.2 52.3 L104.7 52.7 L105.2 52.5 L105.7 53.1 L106.2 53.3 L106.7 53.7 L107.2 53.8 L107.7 53.7 L108.2 54.0 L108.7 54.4 L109.2 54.2 L109.7 54.7 L110.2 54.7 L110.7 54.9 L111.2 55.1 L111.7 55.7 L112.2 55.5 L112.7 55.8 L113.2 56.1 L113.7 56.6 L114.2 56.4 L114.7 56.8 L115.2 57.1 L115.7 57.5 L116.2 57.7 L116.7 57.9 L117.2 57.8 L117.7 58.1 L118.2 58.3 L118.7 58.9 L119.2 59.1 L119.7 58.9 L120.2 59.2 L120.7 59.4 L121.2 59.7 L121.7 60.1 L122.2 60.4 L122.7 60.4 L123.2 60.5 L123.7 61.1 L124.2 61.3 L124.7 61.7 L125.2 62.2 L125.7 62.3 L126.2 62.5 L126.7 62.8 L127.2 63.1 L127.7 63.0 L128.2 63.7 L128.7 63.9 L129.2 64.2 L129.7 64.4 L130.2 64.4 L130.7 64.7 L131.2 64.8 L131.7 65.3 L132.2 65.2 L132.7 65.5 L133.2 65.8 L133.7 66.1 L134.2 66.4 L134.7 66.5 L135.2 66.8 L135.7 67.1 L136.2 67.4 L136.7 67.8 L137.2 67.8 L137.7 68.6 L138.2 68.7 L138.7 68.7 L139.2 69.0 L139.7 69.4 L140.2 69.7 L140.7 69.8 L141.2 70.5 L141.7 70.9 L142.2 70.9 L142.7 71.1 L143.2 71.2 L143.7 71.5 L144.2 71.9 L144.7 72.1 L145.2 72.8 L145.7 72.6 L146.2 72.8 L146.7 73.7 L147.2 73.7 L147.7 73.7 L148.2 74.2 L148.7 74.2 L149.2 74.8 L149.7 75.3 L150.2 75.5 L150.7 75.7 L151.2 75.7 L151.7 76.1 L152.2 76.3 L152.7 76.9 L153.2 77.1 L153.7 77.5 L154.2 77.5 L154.7 77.8 L155.2 78.4 L155.7 78.8 L156.2 79.1 L156.7 79.3 L157.2 79.6 L157.7 79.9 L158.2 79.9 L158.7 80.3 L159.2 80.5 L159.7 80.6 L160.2 80.9 L160.7 81.4 L161.2 81.6 L161.7 82.2 L162.2 82.7 L162.7 82.6 L163.2 83.2 L163.7 83.6 L164.2 83.9 L164.7 83.9 L165.2 84.1 L165.7 84.5 L166.2 84.8 L166.7 85.1 L167.2 85.7 L167.7 86.2 L168.2 86.5 L168.7 86.6 L169.2 87.1 L169.7 87.5 L170.2 87.4 L170.7 88.1 L171.2 88.7 L171.7 88.9 L172.2 89.3 L172.7 89.5 L173.2 89.7 L173.7 90.4 L174.2 90.5 L174.7 91.1 L175.2 91.9 L175.7 92.2 L176.2 92.9 L176.7 93.6 L177.2 93.9 L177.7 93.9 L178.2 94.3 L178.7 94.7 L179.2 95.5 L179.7 95.8 L180.2 95.8 L180.7 96.6 L181.2 97.1 L181.7 97.3 L182.2 97.5 L182.7 98.0 L183.2 98.1 L183.7 98.4 L184.2 99.4 L184.7 99.6 L185.2 99.9 L185.7 100.6 L186.2 100.7 L186.7 101.3 L187.2 101.7 L187.7 101.7 L188.2 102.2 L188.7 102.6 L189.2 102.9 L189.7 103.5 L190.2 103.7 L190.7 104.2 L191.2 104.5 L191.7 105.3 L192.2 105.4 L192.7 105.8 L193.2 106.3 L193.7 106.9 L194.2 107.0 L194.7 107.7 L195.2 107.9 L195.7 108.3 L196.2 108.7 L196.7 108.8 L197.2 109.5 L197.7 109.8 L198.2 110.1 L198.7 111.0 L199.2 111.1 L199.7 111.7 L200.2 112.3 L200.7 112.6 L201.2 112.9 L201.7 113.4 L202.2 113.9 L202.7 114.4 L203.2 114.5 L203.7 115.2 L204.2 115.4 L204.7 115.8 L205.2 116.6 L205.7 116.8 L206.2 117.3 L206.7 117.8 L207.2 118.4 L207.7 118.5 L208.2 119.1 L208.7 119.5 L209.2 120.0 L209.7 120.6 L210.2 120.9 M271.7 221.6 L272.2 222.2 L272.7 223.2 L273.2 223.7 L273.7 224.1 L274.2 224.4 L274.7 224.9 L275.2 225.5 L275.7 226.1 L276.2 226.4 L276.7 227.1 L277.2 227.5 L277.7 228.4 L278.2 229.0 L278.7 229.2 L279.2 229.4 L279.7 230.3 L280.2 230.3 L280.7 230.7 L281.2 230.9 L281.7 231.5 L282.2 232.0 L282.7 232.4 L283.2 232.6 L283.7 233.2 L284.2 233.2 L284.7 233.8 L285.2 234.1 L285.7 234.6 L286.2 234.7 L286.7 235.0 L287.2 235.5 L287.7 235.8 L288.2 236.3 L288.7 236.6 L289.2 237.1 L289.7 237.4 L290.2 237.7 L290.7 238.2 L291.2 238.2 L291.7 238.4 L292.2 239.0 L292.7 238.8 L293.2 239.4 L293.7 239.6 L294.2 239.5 L294.7 240.2 L295.2 240.5 L295.7 240.6 L296.2 240.9 L296.7 241.2 L297.2 241.0 L297.7 241.5 L298.2 241.7 L298.7 242.1 L299.2 242.2 L299.7 242.4 L300.2 242.5 L300.7 242.9 L301.2 243.0 L301.7 243.2 L302.2 243.1 L302.7 243.2 L303.2 243.4 L303.7 243.7 L304.2 243.7 L304.7 244.3 L305.2 244.3 L305.7 244.5 L306.2 244.6 L306.7 244.8 L307.2 244.8 L307.7 244.7 L308.2 245.3 L308.7 245.4 L309.2 245.4 L309.7 245.5 L310.2 245.8 L310.7 245.6 L311.2 246.2 L311.7 246.2 L312.2 246.3 L312.7 246.6 L313.2 247.1 L313.7 247.0 L314.2 247.5 L314.7 247.9 L315.2 247.8 L315.7 247.9 L316.2 248.2 L316.7 248.5 L317.2 248.7 L317.7 248.8 L318.2 249.0 L318.7 248.8 L319.2 249.1 L319.7 249.3 L320.2 249.8 L320.7 249.7 L321.2 250.0 L321.7 249.9 L322.2 250.1 L322.7 250.4 L323.2 250.8 L323.7 251.0 L324.2 251.2 L324.7 251.1 L325.2 251.4 L325.7 251.6 L326.2 251.8 L326.7 251.7 L327.2 252.4 L327.7 252.2 L328.2 252.8 L328.7 253.0 L329.2 252.6 L329.7 253.0 L330.2 253.4 L330.7 253.7 L331.2 253.5 L331.7 253.6 L332.2 253.7 L332.7 254.3 L333.2 254.1 L333.7 254.4 L334.2 254.3 L334.7 254.7 L335.2 255.2 L335.7 254.8 L336.2 255.4 L336.7 255.4 L337.2 255.7 L337.7 255.8 L338.2 255.7 L338.7 256.2 L339.2 256.1 L339.7 256.0 L340.2 256.1 L340.7 256.6 L341.2 256.7 L341.7 256.8 L342.2 256.8 L342.7 257.1 L343.2 257.2 L343.7 257.7 L344.2 257.3 L344.7 257.9 L345.2 258.1 L345.7 257.8 L346.2 258.4 L346.7 258.5 L347.2 258.7 L347.7 258.5 L348.2 258.7 L348.7 258.9 L349.2 259.4 L349.7 259.3 L350.2 259.3 L350.7 259.5 L351.2 259.5 L351.7 259.6 L352.2 259.7 L352.7 260.3 L353.2 260.2 L353.7 260.7 L354.2 260.4 L354.7 260.5 L355.2 260.8 L355.7 260.7 L356.2 261.0 L356.7 261.4 L357.2 261.5 L357.7 261.6 L358.2 261.6 L358.7 261.9 L359.2 262.0 L359.7 261.9 L360.2 262.1 L360.7 261.8 L361.2 262.3 L361.7 262.3 L362.2 262.6 L362.7 262.6 L363.2 262.5 L363.7 262.5 L364.2 263.1 L364.7 262.7 L365.2 263.0 L365.7 263.1 L366.2 263.1 L366.7 263.5 L367.2 263.7 L367.7 263.4 L368.2 263.8 L368.7 263.7 L369.2 263.9 L369.7 263.9 L370.2 263.9 L370.7 264.0 L371.2 264.1 L371.7 264.6 L372.2 264.5 L372.7 264.4 L373.2 264.9 L373.7 265.1 L374.2 264.9 L374.7 264.8 L375.2 264.9 L375.7 264.9 L376.2 265.2 L376.7 265.1 L377.2 265.3 L377.7 265.4 L378.2 265.7 L378.7 266.0 L379.2 266.1 L379.7 266.0 L380.2 266.1 L380.7 266.3 L381.2 266.3 L381.7 266.4 L382.2 266.4 L382.7 266.6 L383.2 267.2 L383.7 266.8 L384.2 267.1 L384.7 267.3 L385.2 267.5 L385.7 267.2 L386.2 267.4 L386.7 267.5 L387.2 267.7 L387.7 267.8 L388.2 268.2 L388.7 268.3 L389.2 268.4 L389.7 268.0 L390.2 268.1 L390.7 268.5 L391.2 268.7 L391.7 268.5 L392.2 268.6 L392.7 268.3 L393.2 268.6 L393.7 269.0 L394.2 269.0 L394.7 269.1 L395.2 269.2 L395.7 268.8 L396.2 268.8 L396.7 268.9 L397.2 269.1 L397.7 269.3 L398.2 269.5 L398.7 269.4 L399.2 269.4 L399.7 269.5 L400.2 269.4 L400.7 269.5 L401.2 269.2 L401.7 269.7 L402.2 269.4 L402.7 269.9 L403.2 269.8 L403.7 269.6 L404.2 269.6 L404.7 269.7 L405.2 270.0 L405.7 270.1 L406.2 269.8 L406.7 269.8 L407.2 270.2 L407.7 270.2 L408.2 270.2 L408.7 270.1 L409.2 270.4 L409.7 270.1 L410.2 270.2 L410.7 270.4 L411.2 270.7 L411.7 270.5 L412.2 270.7 L412.7 270.5 L413.2 270.3 L413.7 270.4 L414.2 270.8 L414.7 270.7 L415.2 270.5 L415.7 270.3 L416.2 270.6 L416.7 270.7 L417.2 270.6 L417.7 270.5 L418.2 270.8 L418.7 271.0 L419.2 270.6 L419.7 270.5 L420.2 270.7" stroke="#ff00ff" stroke-width="1.15" stroke-opacity="0.82" stroke-dasharray="1.1 0.4"/>
<path d="M210.2 120.9 L210.7 121.4 L211.2 121.9 L211.7 122.6 L212.2 122.9 L212.7 123.6 L213.2 124.2 L213.7 124.3 L214.2 125.0 L214.7 125.8 L215.2 126.3 L215.7 126.4 L216.2 127.0 L216.7 127.7 L217.2 128.1 L217.7 128.7 L218.2 129.2 L218.7 130.1 L219.2 130.8 L219.7 131.4 L220.2 131.6 L220.7 132.5 L221.2 133.0 L221.7 133.3 L222.2 134.4 L222.7 135.0 L223.2 135.1 L223.7 136.2 L224.2 136.4 L224.7 137.1 L225.2 138.0 L225.7 138.5 L226.2 138.7 L226.7 139.5 L227.2 140.2 L227.7 140.7 L228.2 141.2 L228.7 141.9 L229.2 142.8 L229.7 143.0 L230.2 143.9 L230.7 144.5 L231.2 144.8 L231.7 145.7 L232.2 146.6 L232.7 147.2 L233.2 147.6 L233.7 148.9 L234.2 149.5 L234.7 150.3 L235.2 150.5 L235.7 151.3 L236.2 151.9 L236.7 153.1 L237.2 153.6 L237.7 154.3 L238.2 155.2 L238.7 156.2 L239.2 156.9 L239.7 157.4 L240.2 158.1 L240.7 159.5 L241.2 160.2 L241.7 161.2 L242.2 161.7 L242.7 162.6 L243.2 163.9 L243.7 164.7 L244.2 165.4 L244.7 166.8 L245.2 167.5 L245.7 168.6 L246.2 169.0 L246.7 170.4 L247.2 170.9 L247.7 172.3 L248.2 173.1 L248.7 174.0 L249.2 175.1 L249.7 176.4 L250.2 177.0 L250.7 177.9 L251.2 179.3 L251.7 180.2 L252.2 181.3 L252.7 182.4 L253.2 183.5 L253.7 184.7 L254.2 185.8 L254.7 186.9 L255.2 188.5 L255.7 189.6 L256.2 191.1 L256.7 192.4 L257.2 193.9 L257.7 195.1 L258.2 196.6 L258.7 197.8 L259.2 199.6 L259.7 200.9 L260.2 202.0 L260.7 203.4 L261.2 204.7 L261.7 205.2 L262.2 206.7 L262.7 207.5 L263.2 208.6 L263.7 209.8 L264.2 210.4 L264.7 211.3 L265.2 212.3 L265.7 213.4 L266.2 213.9 L266.7 215.1 L267.2 215.8 L267.7 216.4 L268.2 217.0 L268.7 217.6 L269.2 218.1 L269.7 218.8 L270.2 219.5 L270.7 220.5 L271.2 220.9 L271.7 221.6" stroke="#ff00ff" stroke-width="1.2" stroke-opacity="0.85" stroke-dasharray="1.2 0.9"/>
</g>
<g stroke="#000" stroke-width="1" fill="none">
<line x1="153.57" y1="272.20" x2="153.57" y2="268.20"/>
<line x1="237.14" y1="272.20" x2="237.14" y2="268.20"/>
<line x1="320.71" y1="272.20" x2="320.71" y2="268.20"/>
<line x1="404.29" y1="272.20" x2="404.29" y2="268.20"/>
</g>
<text x="71.30" y="288.9" text-anchor="middle">0</text>
<text x="155.07" y="288.9" text-anchor="middle">50</text>
<text x="239.14" y="288.9" text-anchor="middle">100</text>
<text x="323.01" y="288.9" text-anchor="middle">150</text>
<text x="405.89" y="288.9" text-anchor="middle">200</text>
<text x="62.6" y="276.60" text-anchor="end">0</text>
<text x="62.6" y="248.02" text-anchor="end">0.05</text>
<text x="62.6" y="219.44" text-anchor="end">0.1</text>
<text x="62.6" y="190.87" text-anchor="end">0.15</text>
<text x="62.6" y="162.29" text-anchor="end">0.2</text>
<text x="62.6" y="133.71" text-anchor="end">0.25</text>
<text x="62.6" y="105.13" text-anchor="end">0.3</text>
<text x="62.6" y="76.56" text-anchor="end">0.35</text>
<text x="62.6" y="47.98" text-anchor="end">0.4</text>
<text x="62.6" y="19.40" text-anchor="end">0.45</text>
<text x="365.4" y="28.00" text-anchor="end">e<tspan font-size="10.2" dy="3.7">0</tspan><tspan dy="-3.7">=0.05</tspan></text>
<text x="365.4" y="40.30" text-anchor="end">e<tspan font-size="10.2" dy="3.7">0</tspan><tspan dy="-3.7">=0.10</tspan></text>
<text x="365.4" y="52.60" text-anchor="end">e<tspan font-size="10.2" dy="3.7">0</tspan><tspan dy="-3.7">=0.20</tspan></text>
<text x="365.4" y="64.90" text-anchor="end">e<tspan font-size="10.2" dy="3.7">0</tspan><tspan dy="-3.7">=0.40</tspan></text>
<line x1="372.9" y1="24.8" x2="406.2" y2="24.8" stroke="#ff0000" stroke-width="1.35" stroke-opacity="0.68"/>
<line x1="372.9" y1="37.1" x2="406.6" y2="37.1" stroke="#00ff00" stroke-width="1.35" stroke-dasharray="2.7 1.0" stroke-opacity="0.75"/>
<line x1="372.9" y1="49.4" x2="405.4" y2="49.4" stroke="#0000ff" stroke-width="1.2" stroke-dasharray="1.15 1.3" stroke-opacity="0.9"/>
<line x1="372.9" y1="61.4" x2="406.2" y2="61.4" stroke="#ff00ff" stroke-width="1.15" stroke-dasharray="1.8 0.7" stroke-opacity="0.72"/>
<text x="245.3" y="306.8" text-anchor="middle" textLength="65.6" lengthAdjust="spacingAndGlyphs">time [Orbits]</text>
<text transform="translate(16.7,143.8) rotate(-90)" text-anchor="middle">eccentricity</text>
</svg>
</body></html>
